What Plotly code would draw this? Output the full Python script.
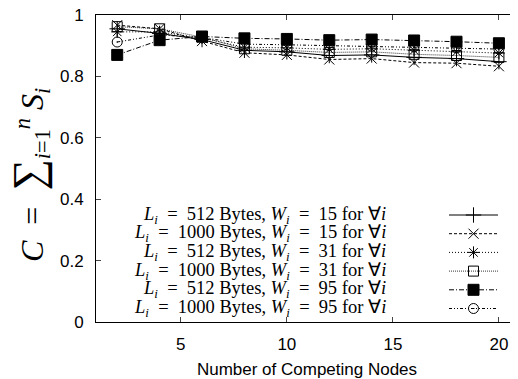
import plotly.graph_objects as go

nodes = [2, 4, 6, 8, 10, 12, 14, 16, 18, 20]

c_512_w15 = [0.955, 0.940, 0.920, 0.885, 0.880, 0.868, 0.870, 0.862, 0.858, 0.848]
c_1000_w15 = [0.967, 0.955, 0.915, 0.877, 0.870, 0.855, 0.858, 0.845, 0.843, 0.833]
c_512_w31 = [0.945, 0.945, 0.925, 0.895, 0.893, 0.888, 0.890, 0.885, 0.880, 0.876]
c_1000_w31 = [0.962, 0.955, 0.928, 0.890, 0.885, 0.878, 0.880, 0.872, 0.868, 0.862]
c_512_w95 = [0.870, 0.918, 0.930, 0.924, 0.922, 0.918, 0.920, 0.917, 0.913, 0.908]
c_1000_w95 = [0.912, 0.935, 0.927, 0.905, 0.903, 0.900, 0.898, 0.896, 0.893, 0.889]

NB = "\u00a0"
EQ = NB * 2 + "=" + NB * 2


def label(size, w):
    return (f"<i>L<sub>i</sub></i>{EQ}{size} Bytes, "
            f"<i>W<sub>i</sub></i>{EQ}{w} for ∀<i>i</i>")


series_names = [
    label(512, 15), label(1000, 15),
    label(512, 31), label(1000, 31),
    label(512, 95), label(1000, 95),
]
series_values = [c_512_w15, c_1000_w15, c_512_w31, c_1000_w31, c_512_w95, c_1000_w95]

styles = [
    dict(dash="solid", symbol="cross-thin-open", size=11, width=1.0),
    dict(dash="3px,2px", symbol="x-thin-open", size=10, width=1.0),
    dict(dash="1px,2px", symbol="asterisk-open", size=10, width=1.0),
    dict(dash="1px,1px", symbol="square-open", size=10, width=0.8),
    dict(dash="5px,2px,1px,2px", symbol="square", size=11, width=1.0),
    dict(dash="3px,2px,1px,2px,1px,2px", symbol="circle-open-dot", size=10, width=1.0),
]

# the page body has an 8px margin; figure placed at (8,8) in the window
OFF = 8
PAGE_W, PAGE_H = 518, 379
PL, PR, PT, PB = 96, 518, 15, 322          # plot box in page pixels
W, H = PAGE_W - OFF, PAGE_H - OFF
L, T = PL - OFF, PT - OFF
R = W - (PR - OFF)
B = H - (PB - OFF)
PW = PR - PL

fig = go.Figure()

for name, vals, st in zip(series_names, series_values, styles):
    fig.add_trace(go.Scatter(
        x=nodes, y=vals, mode="lines+markers", name=name,
        line=dict(color="black", width=st["width"], dash=st["dash"]),
        marker=dict(symbol=st["symbol"], size=st["size"], color="black",
                    line=dict(color="black", width=1)),
        showlegend=False,
    ))

# manual gnuplot-style legend (text left, sample right), in page pixel coords
row_y0, row_dy = 215.0, 18.7
text_right = 388
seg_x0, seg_x1 = 449, 498
annotations = []
for k, (name, st) in enumerate(zip(series_names, styles)):
    yy = row_y0 + k * row_dy
    fig.add_trace(go.Scatter(
        x=[seg_x0, seg_x1], y=[yy, yy], mode="lines", xaxis="x2", yaxis="y2",
        line=dict(color="black", width=st["width"], dash=st["dash"]),
        showlegend=False, hoverinfo="skip",
    ))
    fig.add_trace(go.Scatter(
        x=[(seg_x0 + seg_x1) / 2], y=[yy], mode="markers", xaxis="x2", yaxis="y2",
        marker=dict(symbol=st["symbol"], size=st["size"], color="black",
                    line=dict(color="black", width=1)),
        showlegend=False, hoverinfo="skip",
    ))
    annotations.append(dict(
        x=text_right, y=yy, xref="x2", yref="y2", text=name, showarrow=False,
        xanchor="right", yanchor="middle",
        font=dict(family="Liberation Serif", size=18.5, color="black"),
    ))

annotations.append(dict(
    x=(29 - PL) / PW, y=1 - (175 - PT) / (PB - PT), xref="paper", yref="paper",
    text=f"<i>C</i>{EQ}<span style='font-size:44px'>∑</span><sub><i>i</i>=1</sub><sup><i>n</i></sup>{NB}<i>S<sub>i</sub></i>",
    showarrow=False, textangle=-90, xanchor="center", yanchor="middle",
    font=dict(family="Liberation Serif", size=32, color="black"),
))

fig.update_layout(
    width=W, height=H,
    margin=dict(l=L, r=R, t=T, b=B, pad=0, autoexpand=False),
    paper_bgcolor="white", plot_bgcolor="white",
    font=dict(family="Liberation Sans", size=17, color="black"),
    annotations=annotations,
    xaxis=dict(
        range=[1, 20.9], tickvals=[5, 10, 15, 20], ticks="inside", ticklen=5,
        showline=True, linecolor="black", linewidth=1, mirror="ticks",
        showgrid=False, zeroline=False, ticklabelstandoff=7,
        ticklabeloverflow="allow",
        title=dict(text="Number of Competing Nodes", font=dict(size=17), standoff=9),
        tickfont=dict(size=17),
    ),
    yaxis=dict(
        range=[0, 1], tickvals=[0, 0.2, 0.4, 0.6, 0.8, 1],
        ticktext=["0", "0.2", "0.4", "0.6", "0.8", "1"],
        ticks="inside", ticklen=5, ticklabelstandoff=8,
        ticklabeloverflow="allow",
        showline=True, linecolor="black", linewidth=1, mirror=False,
        showgrid=False, zeroline=False, tickfont=dict(size=17),
    ),
    xaxis2=dict(overlaying="x", range=[PL, PR], visible=False, fixedrange=True),
    yaxis2=dict(overlaying="y", range=[PB, PT], visible=False, fixedrange=True),
)

fig.write_html("out.html")
